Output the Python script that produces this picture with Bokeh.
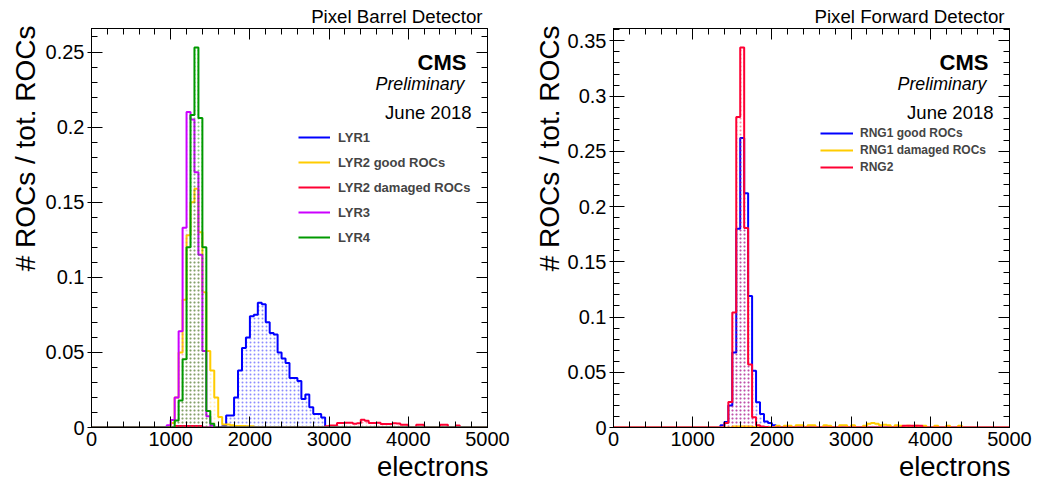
import numpy as np
from bokeh.plotting import figure
from bokeh.models import (Range1d, LinearAxis, SingleIntervalTicker, CustomJSTickFormatter,
                          Label, Legend, LegendItem, ColumnDataSource, Title)
from bokeh.layouts import row
from bokeh.embed import file_html
from bokeh.resources import INLINE

# ---------------- data (50-electron bins from 0 to 5000) ----------------
BIN_WIDTH = 50
N_BINS = 100
X_MAX = 5000

# Pixel Barrel Detector
lyr1_start = 1650
lyr1 = [0.001, 0.008, 0.008, 0.020, 0.038, 0.053, 0.060, 0.074, 0.075, 0.083, 0.082,
        0.070, 0.063, 0.062, 0.050, 0.046, 0.043, 0.033, 0.033, 0.031, 0.019, 0.022,
        0.0135, 0.009, 0.009, 0.0066]
lyr2_good_start = 950
lyr2_good = [0.001, 0.003, 0.020, 0.050, 0.085, 0.128, 0.150, 0.159, 0.130, 0.090, 0.051,
             0.038, 0.020, 0.007, 0.002, 0.002, 0.0015, 0.001, 0.001, 0.001, 0.0008, 0.0008]
lyr2_dmg_low_start = 1050
lyr2_dmg_low = [0.001, 0.001, 0.001, 0.001, 0.001, 0.001, 0.001]
lyr2_dmg_high_start = 2950
lyr2_dmg_high = [0.0008, 0.0013, 0.0013, 0.003, 0.003, 0.0032, 0.0032, 0.0025, 0.0028, 0.0052,
                 0.0045, 0.003, 0.003, 0.0032, 0.0024, 0.0024, 0.0024, 0.0028, 0.0026, 0.0018,
                 0.0018, 0.0, 0.0, 0.0018, 0.0018, 0.0, 0.0, 0.0, 0.0, 0.0018, 0.0018, 0.0,
                 0.0, 0.0013]
lyr3_start = 950
lyr3 = [0.0015, 0.005, 0.020, 0.064, 0.133, 0.210, 0.205, 0.170, 0.115, 0.051, 0.0075, 0.0013]
lyr4_start = 1050
lyr4 = [0.0046, 0.018, 0.0455, 0.120, 0.208, 0.253, 0.206, 0.120, 0.011, 0.0025]

# Pixel Forward Detector
rng1_good_start = 1350
rng1_good = [0.002, 0.005, 0.020, 0.068, 0.180, 0.262, 0.212, 0.119, 0.0514, 0.0228, 0.0123,
             0.0055, 0.004, 0.002, 0.001]
rng1_dmg_start = 1500
rng1_dmg = [0.0008, 0.0008, 0.0008, 0.0008, 0.0008, 0.0005, 0.0005, 0.0005, 0.0005, 0.0005,
            0.0, 0.0015, 0.0, 0.0015, 0.0015, 0.0, 0.002, 0.002, 0.0, 0.002,
            0.002, 0.0, 0.0, 0.002, 0.0015, 0.0, 0.0, 0.002, 0.002, 0.0,
            0.002, 0.0, 0.0, 0.0015, 0.0035, 0.004, 0.0035, 0.002, 0.0025, 0.002,
            0.0, 0.002, 0.0015, 0.0, 0.0015, 0.0, 0.0015, 0.0, 0.0015, 0.0,
            0.0, 0.0015, 0.0, 0.0, 0.0015, 0.0, 0.0, 0.0015]
rng2_start = 1400
rng2 = [0.004, 0.023, 0.104, 0.281, 0.344, 0.1805, 0.057, 0.0093, 0.002, 0.001, 0.0005]
rng2_tail_start = 3650
rng2_tail = [0.0015, 0.0015, 0.0015, 0.0015, 0.0015]

barrel_labels = ["LYR1", "LYR2 good ROCs", "LYR2 damaged ROCs", "LYR3", "LYR4"]
barrel_colors = ["#0000ff", "#ffcc00", "#ff0033", "#cc00ff", "#009900"]
barrel_dot_alpha = [0.45, 0.3, 0.45, 0.3, 0.55]
forward_labels = ["RNG1 good ROCs", "RNG1 damaged ROCs", "RNG2"]
forward_colors = ["#0000ff", "#ffcc00", "#ff0033"]
forward_dot_alpha = [0.45, 0.45, 0.5]

FONT = "Liberation Sans"
edges = np.arange(0, X_MAX + BIN_WIDTH, BIN_WIDTH)


def full(*parts):
    arr = np.zeros(N_BINS)
    for start, vals in parts:
        i0 = start // BIN_WIDTH
        arr[i0:i0 + len(vals)] += np.asarray(vals)
    return arr


def draw_hist(p, vals, color, dot_alpha):
    src = ColumnDataSource(dict(left=edges[:-1], right=edges[1:], top=vals))
    p.quad(left="left", right="right", bottom=0, top="top", source=src,
           fill_color=None, line_color=None,
           hatch_pattern="dot", hatch_color=color, hatch_alpha=dot_alpha,
           hatch_scale=4, hatch_weight=1)
    return p.step(x=edges, y=np.append(vals, 0.0), mode="after",
                  line_color=color, line_width=2)


def make_fig(ymax, left_border, right_border, title, ylab_standoff):
    p = figure(frame_width=396, frame_height=399,
               x_range=Range1d(0, X_MAX), y_range=Range1d(0, ymax),
               output_backend="svg", toolbar_location=None,
               min_border_left=left_border, min_border_right=right_border,
               min_border_top=28, min_border_bottom=58,
               background_fill_color="white", border_fill_color="white")
    p.xgrid.visible = False
    p.ygrid.visible = False
    p.outline_line_color = "black"
    p.outline_line_width = 1
    xt = SingleIntervalTicker(interval=1000, num_minor_ticks=5)
    yt = SingleIntervalTicker(interval=0.05, num_minor_ticks=5)
    fmt = CustomJSTickFormatter(code="return String(Number(tick.toFixed(3)));")
    p.xaxis.ticker = xt
    p.yaxis.ticker = yt
    p.yaxis.formatter = fmt
    for ax in p.xaxis:
        ax.major_tick_in = 11
        ax.major_tick_out = 0
        ax.minor_tick_in = 6
        ax.minor_tick_out = 0
        ax.major_label_standoff = 4
    for ax in p.yaxis:
        ax.major_tick_in = 11
        ax.major_tick_out = 4
        ax.minor_tick_in = 6
        ax.minor_tick_out = 0
        ax.major_label_standoff = 3
    for ax in list(p.xaxis) + list(p.yaxis):
        ax.major_label_text_font = FONT
        ax.major_label_text_font_size = "20px"
        ax.major_label_text_color = "black"
        ax.axis_line_color = "black"
        ax.major_tick_line_color = "black"
        ax.minor_tick_line_color = "black"
    top = LinearAxis(ticker=SingleIntervalTicker(interval=1000, num_minor_ticks=5))
    right = LinearAxis(ticker=SingleIntervalTicker(interval=0.05, num_minor_ticks=5))
    for ax in (top, right):
        ax.major_tick_in = 11
        ax.major_tick_out = 0
        ax.minor_tick_in = 6
        ax.minor_tick_out = 0
        ax.major_label_text_font_size = "0px"
        ax.major_label_text_alpha = 0
        ax.major_label_standoff = 0
        ax.axis_line_color = "black"
        ax.major_tick_line_color = "black"
        ax.minor_tick_line_color = "black"
    p.add_layout(top, "above")
    p.add_layout(right, "right")

    # main title, right aligned above the frame
    p.title.text = title
    p.title.align = "right"
    p.title.offset = 5
    p.title.standoff = 3
    p.title.text_font = FONT
    p.title.text_font_size = "18.7px"
    p.title.text_font_style = "normal"
    p.title.text_color = "black"

    # axis titles, right aligned as in ROOT
    xl = Title(text="electrons", align="right", offset=-1, standoff=0,
               text_font=FONT, text_font_size="27.5px", text_font_style="normal",
               text_color="black")
    p.add_layout(xl, "below")
    yl = Title(text="# ROCs / tot. ROCs", align="right", offset=-3, standoff=ylab_standoff,
               text_font=FONT, text_font_size="28px", text_font_style="normal",
               text_color="black")
    p.add_layout(yl, "left")

    def lab(text, x, y, size, style="normal"):
        p.add_layout(Label(x=x, y=y, x_units="screen", y_units="screen", text=text,
                           text_font=FONT, text_font_size=size, text_font_style=style,
                           text_align="right", text_baseline="alphabetic",
                           text_color="black"))
    lab("CMS", 375, 365, "22px", style="bold")
    lab("Preliminary", 373, 344, "17.8px", style="italic")
    lab("June 2018", 380, 315, "18.5px")
    return p


# ---------------- left: barrel ----------------
barrel = [full((lyr1_start, lyr1)),
          full((lyr2_good_start, lyr2_good)),
          full((lyr2_dmg_low_start, lyr2_dmg_low), (lyr2_dmg_high_start, lyr2_dmg_high)),
          full((lyr3_start, lyr3)),
          full((lyr4_start, lyr4))]
p1 = make_fig(1.05 * max(v.max() for v in barrel), 91, 43, "Pixel Barrel Detector", 4)
r1 = [draw_hist(p1, v, c, a) for v, c, a in zip(barrel, barrel_colors, barrel_dot_alpha)]
leg1 = Legend(items=[LegendItem(label=l, renderers=[r]) for l, r in zip(barrel_labels, r1)],
              location=(207, 180), glyph_width=32, glyph_height=20, label_height=20,
              spacing=5, padding=0, margin=0, label_standoff=8,
              label_text_font=FONT, label_text_font_size="13px",
              label_text_font_style="bold", border_line_color=None,
              background_fill_alpha=0)
p1.add_layout(leg1)

# ---------------- right: forward ----------------
forward = [full((rng1_good_start, rng1_good)),
           full((rng1_dmg_start, rng1_dmg)),
           full((rng2_start, rng2), (rng2_tail_start, rng2_tail))]
p2 = make_fig(1.05 * max(v.max() for v in forward), 83, 25, "Pixel Forward Detector", 0)
r2 = [draw_hist(p2, v, c, a) for v, c, a in zip(forward, forward_colors, forward_dot_alpha)]
leg2 = Legend(items=[LegendItem(label=l, renderers=[r]) for l, r in zip(forward_labels, r2)],
              location=(207, 253), glyph_width=33, glyph_height=14, label_height=14,
              spacing=3, padding=0, margin=0, label_standoff=7,
              label_text_font=FONT, label_text_font_size="12px",
              label_text_font_style="bold", border_line_color=None,
              background_fill_alpha=0)
p2.add_layout(leg2)

layout = row(p1, p2, spacing=0)
open("out.html", "w").write(file_html(layout, INLINE))
